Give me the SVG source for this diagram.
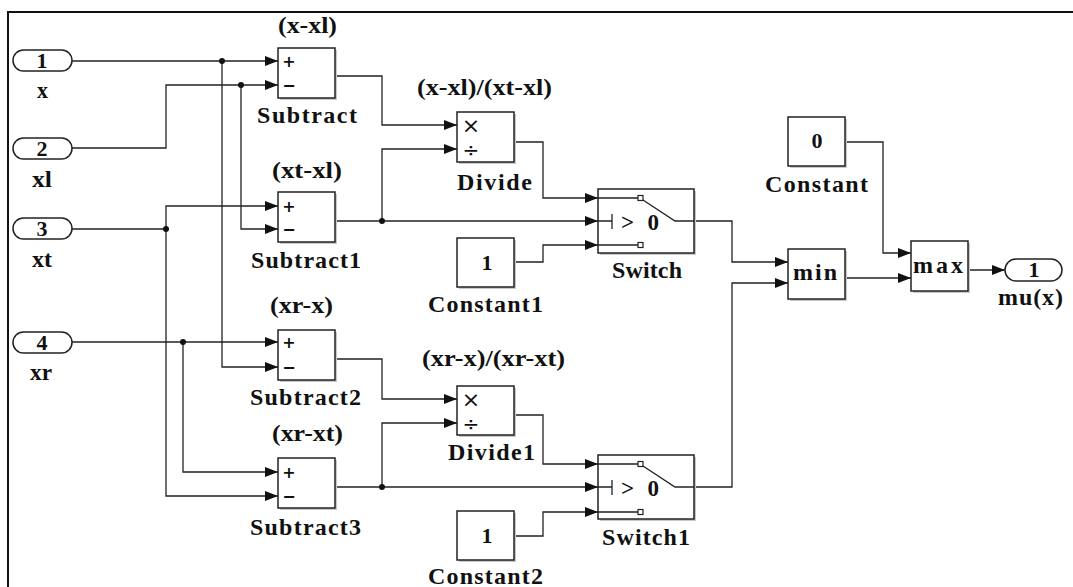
<svg xmlns="http://www.w3.org/2000/svg" width="1073" height="587" viewBox="0 0 1073 587">
<style>
.lbl{font-family:"Liberation Serif","Times New Roman",serif;font-weight:bold;font-size:24px;fill:#111}
.num{font-family:"Liberation Serif","Times New Roman",serif;font-weight:bold;font-size:22px;fill:#111;text-anchor:middle}
.sym{font-family:"DejaVu Sans","Liberation Sans",sans-serif;font-size:16px;fill:#111;text-anchor:middle}
.pm{font-family:"DejaVu Sans","Liberation Sans",sans-serif;font-size:16px;font-weight:bold;fill:#111;text-anchor:middle}
.blk{fill:#fff;stroke:#222;stroke-width:1.5}
.shd{fill:#c8c8c8}
.port{fill:#fff;stroke:#222;stroke-width:1.5}
.w{fill:none;stroke:#222;stroke-width:1.3}
.wa{fill:none;stroke:#222;stroke-width:1.3;marker-end:url(#ah)}
.dot{fill:#111}
</style>
<defs>
<marker id="ah" markerUnits="userSpaceOnUse" markerWidth="13" markerHeight="10" refX="13" refY="5" orient="auto">
<path d="M0,0 L13,5 L0,10 z" fill="#111"/>
</marker>
</defs>
<rect x="0" y="0" width="1073" height="587" fill="#fff"/>
<path d="M8,587 L8,12 L1073,12" fill="none" stroke="#111" stroke-width="2"/>

<g id="connectors">
<path class="wa" d="M72,61 L278,61"/>
<path class="wa" d="M222,61 L222,367 L278,367"/>
<path class="wa" d="M72,148 L166,148 L166,85 L278,85"/>
<path class="wa" d="M241,85 L241,229 L278,229"/>
<path class="wa" d="M72,229 L166,229 L166,206 L278,206"/>
<path class="wa" d="M166,229 L166,496 L278,496"/>
<path class="wa" d="M72,342 L278,342"/>
<path class="wa" d="M183,342 L183,472 L278,472"/>
<path class="wa" d="M335,76 L382,76 L382,125 L457,125"/>
<path class="wa" d="M335,221 L598,221"/>
<path class="wa" d="M382,221 L382,149 L457,149"/>
<path class="wa" d="M514,142 L543,142 L543,198 L598,198"/>
<path class="wa" d="M514,262 L543,262 L543,245 L598,245"/>
<path class="wa" d="M694,221 L732,221 L732,262 L788,262"/>
<path class="wa" d="M335,359 L382,359 L382,399 L457,399"/>
<path class="wa" d="M335,487 L598,487"/>
<path class="wa" d="M382,487 L382,423 L457,423"/>
<path class="wa" d="M514,415 L543,415 L543,464 L598,464"/>
<path class="wa" d="M514,536 L543,536 L543,512 L598,512"/>
<path class="wa" d="M694,487 L732,487 L732,283 L788,283"/>
<path class="wa" d="M845,278 L911,278"/>
<path class="wa" d="M845,142 L883,142 L883,253 L911,253"/>
<path class="wa" d="M968,270 L1005,270"/>
<circle class="dot" cx="222" cy="61" r="3"/>
<circle class="dot" cx="241" cy="85" r="3"/>
<circle class="dot" cx="166" cy="229" r="3"/>
<circle class="dot" cx="183" cy="342" r="3"/>
<circle class="dot" cx="382" cy="221" r="3"/>
<circle class="dot" cx="382" cy="487" r="3"/>
</g>

<g id="in1">
<rect class="port" x="13" y="50" width="59" height="21" rx="10.5" ry="10.5"/>
<text class="num" x="42" y="68">1</text>
<text class="lbl" x="37" y="98" textLength="11" lengthAdjust="spacingAndGlyphs">x</text>
</g>
<g id="in2">
<rect class="port" x="13" y="138" width="59" height="21" rx="10.5" ry="10.5"/>
<text class="num" x="42" y="156">2</text>
<text class="lbl" x="32" y="187" textLength="20" lengthAdjust="spacingAndGlyphs">xl</text>
</g>
<g id="in3">
<rect class="port" x="13" y="218" width="59" height="21" rx="10.5" ry="10.5"/>
<text class="num" x="42" y="236">3</text>
<text class="lbl" x="32" y="267" textLength="20" lengthAdjust="spacingAndGlyphs">xt</text>
</g>
<g id="in4">
<rect class="port" x="13" y="332" width="59" height="21" rx="10.5" ry="10.5"/>
<text class="num" x="42" y="350">4</text>
<text class="lbl" x="30" y="380" textLength="22" lengthAdjust="spacingAndGlyphs">xr</text>
</g>

<g id="subtract">
<rect class="shd" x="280" y="50" width="57" height="50"/>
<rect class="blk" x="278" y="48" width="57" height="50"/>
<text class="pm" x="289" y="67">+</text>
<text class="pm" x="289" y="91">−</text>
<text class="lbl" x="278" y="33" textLength="59" lengthAdjust="spacingAndGlyphs">(x-xl)</text>
<text class="lbl" x="257" y="123" textLength="100" lengthAdjust="spacing">Subtract</text>
</g>
<g id="subtract1">
<rect class="shd" x="280" y="194" width="57" height="50"/>
<rect class="blk" x="278" y="192" width="57" height="50"/>
<text class="pm" x="289" y="212">+</text>
<text class="pm" x="289" y="235">−</text>
<text class="lbl" x="272" y="178" textLength="70" lengthAdjust="spacingAndGlyphs">(xt-xl)</text>
<text class="lbl" x="251" y="268" textLength="110" lengthAdjust="spacing">Subtract1</text>
</g>
<g id="subtract2">
<rect class="shd" x="280" y="332" width="57" height="50"/>
<rect class="blk" x="278" y="330" width="57" height="50"/>
<text class="pm" x="289" y="348">+</text>
<text class="pm" x="289" y="373">−</text>
<text class="lbl" x="270" y="313" textLength="63" lengthAdjust="spacingAndGlyphs">(xr-x)</text>
<text class="lbl" x="250" y="405" textLength="111" lengthAdjust="spacing">Subtract2</text>
</g>
<g id="subtract3">
<rect class="shd" x="280" y="460" width="57" height="50"/>
<rect class="blk" x="278" y="458" width="57" height="50"/>
<text class="pm" x="289" y="478">+</text>
<text class="pm" x="289" y="502">−</text>
<text class="lbl" x="272" y="441" textLength="71" lengthAdjust="spacingAndGlyphs">(xr-xt)</text>
<text class="lbl" x="250" y="535" textLength="111" lengthAdjust="spacing">Subtract3</text>
</g>

<g id="divide">
<rect class="shd" x="459" y="114" width="57" height="50"/>
<rect class="blk" x="457" y="112" width="57" height="50"/>
<text class="sym" x="471" y="133" style="font-size:22px">×</text>
<text class="sym" x="471" y="157" style="font-size:20px">÷</text>
<text class="lbl" x="417" y="95" textLength="135" lengthAdjust="spacingAndGlyphs">(x-xl)/(xt-xl)</text>
<text class="lbl" x="457" y="190" textLength="75" lengthAdjust="spacing">Divide</text>
</g>
<g id="divide1">
<rect class="shd" x="459" y="388" width="57" height="49"/>
<rect class="blk" x="457" y="386" width="57" height="49"/>
<text class="sym" x="471" y="407" style="font-size:22px">×</text>
<text class="sym" x="471" y="431" style="font-size:20px">÷</text>
<text class="lbl" x="422" y="366" textLength="143" lengthAdjust="spacingAndGlyphs">(xr-x)/(xr-xt)</text>
<text class="lbl" x="448" y="460" textLength="87" lengthAdjust="spacing">Divide1</text>
</g>

<g id="constant1">
<rect class="shd" x="459" y="240" width="57" height="49"/>
<rect class="blk" x="457" y="238" width="57" height="49"/>
<text class="num" x="487" y="270">1</text>
<text class="lbl" x="428" y="312" textLength="115" lengthAdjust="spacing">Constant1</text>
</g>
<g id="constant2">
<rect class="shd" x="459" y="513" width="57" height="49"/>
<rect class="blk" x="457" y="511" width="57" height="49"/>
<text class="num" x="487" y="543">1</text>
<text class="lbl" x="428" y="584" textLength="115" lengthAdjust="spacing">Constant2</text>
</g>

<g id="switch">
<rect class="shd" x="600" y="191" width="96" height="64"/>
<rect class="blk" x="598" y="189" width="96" height="64"/>
<path class="w" d="M598,198 L638,198 M598,245 L638,245 M598,221 L612,221 M612,214 L612,229 M643,200 L675,221 L694,221"/>
<rect x="638" y="195.5" width="5" height="5" fill="#fff" stroke="#222" stroke-width="1.2"/>
<rect x="638" y="242.5" width="5" height="5" fill="#fff" stroke="#222" stroke-width="1.2"/>
<text class="lbl" x="621" y="230" style="font-size:23px" textLength="38" lengthAdjust="spacing">&gt; 0</text>
<text class="lbl" x="612" y="278" textLength="70" lengthAdjust="spacing">Switch</text>
</g>
<g id="switch1">
<rect class="shd" x="600" y="457" width="96" height="64"/>
<rect class="blk" x="598" y="455" width="96" height="64"/>
<path class="w" d="M598,464 L638,464 M598,512 L638,512 M598,487 L612,487 M612,480 L612,495 M643,466 L675,487 L694,487"/>
<rect x="638" y="461.5" width="5" height="5" fill="#fff" stroke="#222" stroke-width="1.2"/>
<rect x="638" y="509.5" width="5" height="5" fill="#fff" stroke="#222" stroke-width="1.2"/>
<text class="lbl" x="621" y="496" style="font-size:23px" textLength="38" lengthAdjust="spacing">&gt; 0</text>
<text class="lbl" x="602" y="545" textLength="88" lengthAdjust="spacing">Switch1</text>
</g>

<g id="min">
<rect class="shd" x="790" y="251" width="57" height="50"/>
<rect class="blk" x="788" y="249" width="57" height="50"/>
<text class="lbl" x="793" y="280" textLength="44" lengthAdjust="spacing">min</text>
</g>
<g id="constant">
<rect class="shd" x="790" y="119" width="57" height="49"/>
<rect class="blk" x="788" y="117" width="57" height="49"/>
<text class="num" x="817" y="148">0</text>
<text class="lbl" x="765" y="192" textLength="103" lengthAdjust="spacing">Constant</text>
</g>
<g id="max">
<rect class="shd" x="913" y="243" width="57" height="50"/>
<rect class="blk" x="911" y="241" width="57" height="50"/>
<text class="lbl" x="913" y="273" textLength="50" lengthAdjust="spacing">max</text>
</g>
<g id="out1">
<rect class="port" x="1005" y="259" width="57" height="22" rx="11" ry="11"/>
<text class="num" x="1034" y="277">1</text>
<text class="lbl" x="998" y="305" textLength="65" lengthAdjust="spacing">mu(x)</text>
</g>
</svg>
